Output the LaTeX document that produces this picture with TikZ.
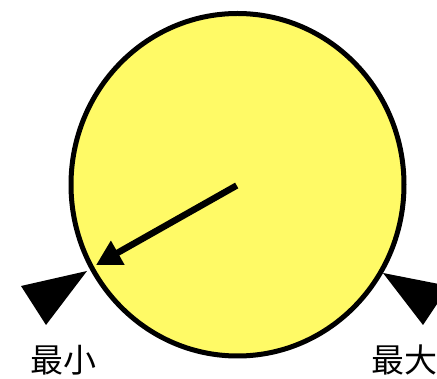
\documentclass[tikz,border=0pt]{standalone}
\usepackage{fontspec}
\newfontfamily\cjk{Noto Sans CJK JP}
\usetikzlibrary{arrows.meta,shapes.geometric}
\definecolor{dialyellow}{RGB}{255,250,102}
\tikzset{
  dial/.style={ellipse, draw=black, line width=5pt, fill=dialyellow, minimum width=333pt, minimum height=342.5pt, inner sep=0pt, outer sep=0pt},
  pointer/.style={line width=6.5pt, -{Triangle[length=25pt,width=26pt]}},
  marker/.style={fill=black, draw=none},
  lbl/.style={font=\cjk\fontsize{33}{36}\selectfont, inner sep=0pt}
}
\begin{document}
\begin{tikzpicture}[x=1pt,y=-1pt]
\useasboundingbox (0,0) rectangle (437,379);
\clip (0,0) rectangle (437,379);
\node[dial] (dial) at (237.5,184.75) {};
\coordinate (c) at (236.7,185.5);
\coordinate (tip) at (96,265);
\draw[pointer] (c) -- (tip);
\fill[marker] (21,286) -- (87,271) -- (46,325) -- cycle;
\fill[marker] (383,273) -- (449,286) -- (423,325) -- cycle;
\node[lbl] (min) at (63.5,360) {最小};
\node[lbl] (max) at (404,360) {最大};
\end{tikzpicture}
\end{document}
